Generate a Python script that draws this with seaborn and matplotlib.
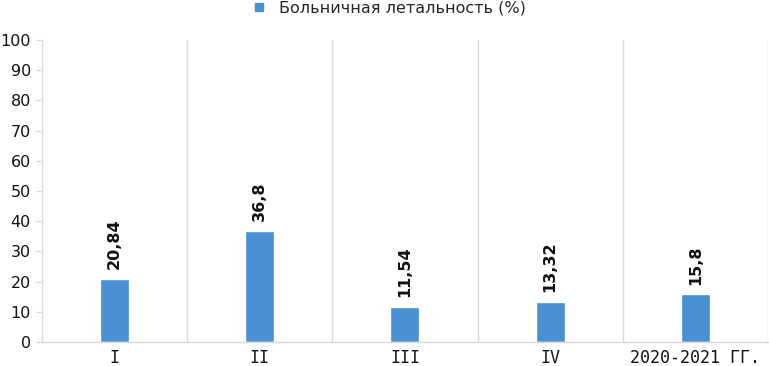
import matplotlib
matplotlib.use("Agg")
import matplotlib.pyplot as plt
import seaborn as sns
import pandas as pd
from matplotlib.ticker import MultipleLocator, FixedLocator
from matplotlib.lines import Line2D

categories = ["I", "II", "III", "IV", "2020-2021 ГГ."]
values = [20.84, 36.8, 11.54, 13.32, 15.8]
value_labels = ["20,84", "36,8", "11,54", "13,32", "15,8"]
series_name = "Больничная летальность (%)"

sns.set_style("white")
plt.rcParams['font.family'] = ['DejaVu Sans']
plt.rcParams['font.sans-serif'] = ['DejaVu Sans']

df = pd.DataFrame({"cat": categories, "val": values})
color = "#4A90D4"

fig = plt.figure(figsize=(7.69, 3.66), dpi=100)
ax = fig.add_axes([0.0546, 0.0656, 0.944, 0.825])
sns.barplot(data=df, x="cat", y="val", color=color, width=0.2, ax=ax, saturation=1)

ax.set_ylim(0, 100)
ax.set_xlim(-0.5, len(categories) - 0.5)
ax.yaxis.set_major_locator(MultipleLocator(10))
ax.set_xlabel("")
ax.set_ylabel("")

ax.xaxis.set_minor_locator(FixedLocator([i + 0.5 for i in range(len(categories))]))
ax.grid(False)
ax.grid(which="minor", axis="x", color="#d9d9d9", linewidth=1)
ax.tick_params(axis="x", which="both", length=0, labelsize=12, pad=5, colors="#111111")
ax.tick_params(axis="y", which="major", length=4, color="#d9d9d9", labelsize=11.5, colors="#111111", left=True, pad=4)
for t in ax.get_xticklabels():
    t.set_fontfamily("DejaVu Sans Mono")
for t in ax.get_yticklabels():
    t.set_fontfamily("DejaVu Sans")

for s in ["top", "right"]:
    ax.spines[s].set_visible(False)
for s in ["left", "bottom"]:
    ax.spines[s].set_color("#d9d9d9")
    ax.spines[s].set_linewidth(1)

for i, (v, lab) in enumerate(zip(values, value_labels)):
    ax.annotate(lab, (i, v), xytext=(0, 7), textcoords="offset points",
                rotation=90, ha="center", va="bottom", fontsize=11.5,
                fontweight="bold", color="#111111", family="DejaVu Sans")

handle = Line2D([], [], marker="s", linestyle="", color=color, markersize=6)
fig.legend([handle], [series_name], loc="upper center", bbox_to_anchor=(0.5, 1.025),
           frameon=False, prop={"family": "DejaVu Sans", "size": 11.5},
           handletextpad=0.2, borderaxespad=0.2)

fig.savefig("out.png", dpi=100)
